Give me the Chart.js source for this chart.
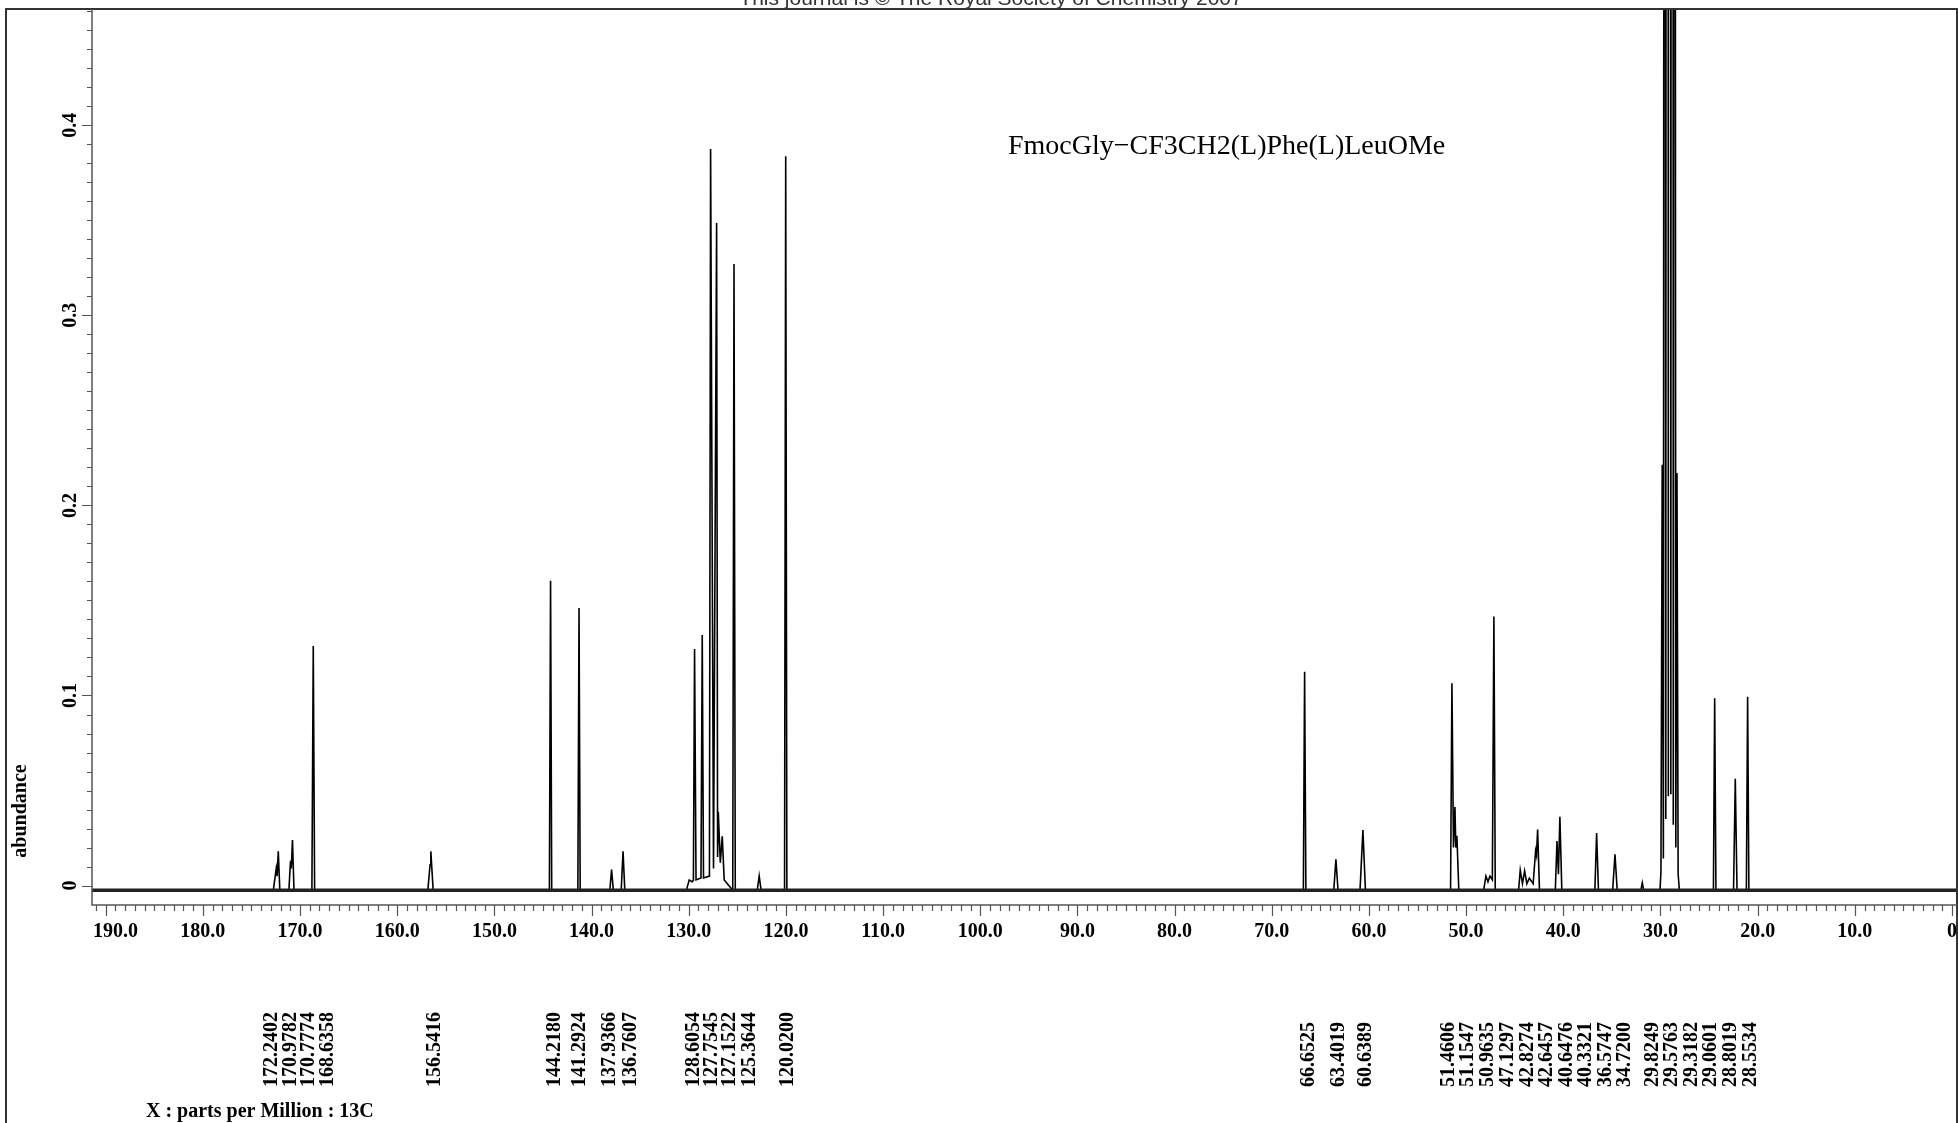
<!DOCTYPE html>
<html lang="en">
<head>
<meta charset="UTF-8">
<title>13C NMR - FmocGly-CF3CH2(L)Phe(L)LeuOMe</title>
<script src="https://cdn.jsdelivr.net/npm/chart.js@4/dist/chart.umd.min.js"></script>
<style>
    html, body { margin: 0; padding: 0; background: #fff; }
    #spectrum { display: block; }
</style>
</head>
<body>
<canvas id="spectrum" width="1958" height="1123"></canvas>
<script>
// spectrum trace (ppm descending, abundance)
const B = -0.0025; // baseline sits a bit under zero
const tracePpm = [
    191.41,
    172.75, 172.45, 172.36, 172.24, 172.08,
    171.15, 170.98, 170.90, 170.78, 170.62,
    168.78, 168.64, 168.50,
    156.85, 156.62, 156.54, 156.30,
    144.34, 144.22, 144.10,
    141.41, 141.29, 141.17,
    138.12, 137.94, 137.76,
    136.95, 136.76, 136.58,
    130.25, 129.95, 129.65, 129.52, 129.40, 129.25,
    128.74, 128.61, 128.48,
    127.87, 127.75, 127.45, 127.13, 127.03, 126.96, 126.75, 126.55, 126.35,
    125.47, 125.34, 125.21,
    122.95, 122.75, 122.55,
    120.14, 120.02, 119.90,
    66.75, 66.62, 66.49,
    63.62, 63.40, 63.18,
    60.92, 60.62, 60.36,
    51.60, 51.46, 51.30, 51.15, 51.06, 50.95, 50.75,
    48.20, 47.96, 47.75, 47.55, 47.30, 47.14, 47.00,
    44.60, 44.43, 44.20, 43.98, 43.75, 43.49, 43.10, 42.85, 42.76, 42.64, 42.45,
    40.82, 40.65, 40.50, 40.35, 40.15,
    36.75, 36.57, 36.38,
    34.92, 34.68, 34.45,
    32.02, 31.87, 31.72,
    30.05, 29.95, 29.82, 29.70, 29.58, 29.45, 29.32, 29.19, 29.06, 28.93, 28.80, 28.68, 28.55, 28.42, 28.30, 28.18, 28.05,
    24.55, 24.42, 24.29,
    22.48, 22.30, 22.12,
    21.16, 21.03, 20.90,
    -0.62
];
const traceAbund = [
    B,
    B, 0.009, 0.005, 0.018, B,
    B, 0.013, 0.009, 0.024, B,
    B, 0.126, B,
    B, 0.011, 0.018, B,
    B, 0.1604, B,
    B, 0.146, B,
    B, 0.0085, B,
    B, 0.018, B,
    B, 0.003, 0.002, 0.003, 0.1245, 0.003,
    0.004, 0.1318, 0.004,
    0.005, 0.3875, 0.009, 0.3486, 0.015, 0.0388, 0.012, 0.0259, 0.003,
    B, 0.327, B,
    B, 0.0051, B,
    B, 0.3836, B,
    B, 0.1125, B,
    B, 0.0139, B,
    B, 0.0292, B,
    B, 0.1064, 0.020, 0.0414, 0.020, 0.0262, B,
    B, 0.005, 0.002, 0.005, 0.003, 0.1415, B,
    B, 0.0081, 0.001, 0.0077, 0.001, 0.0039, 0.001, 0.0183, 0.016, 0.0295, B,
    B, 0.0235, 0.006, 0.0362, B,
    B, 0.0276, B,
    B, 0.0165, B,
    B, 0.0015, B,
    B, 0.007, 0.2214, 0.0142, 1.32, 0.035, 3.3, 0.047, 4.4, 0.048, 3.3, 0.032, 1.32, 0.020, 0.217, 0.006, B,
    B, 0.0985, B,
    B, 0.0562, B,
    B, 0.0993, B,
    B
];
const baselinePpm = [191.41, -0.62];
const baselineAbund = [B, B];

const xMajorTicks = [190, 180, 170, 160, 150, 140, 130, 120, 110, 100, 90, 80, 70, 60, 50, 40, 30, 20, 10, 0];
const xTickLabels = ['190.0', '180.0', '170.0', '160.0', '150.0', '140.0', '130.0', '120.0', '110.0', '100.0',
    '90.0', '80.0', '70.0', '60.0', '50.0', '40.0', '30.0', '20.0', '10.0', '0'];
const yMajorTicks = [0, 0.1, 0.2, 0.3, 0.4];
const yTickLabels = ['0', '0.1', '0.2', '0.3', '0.4'];

const peakLabels = ['172.2402', '170.9782', '170.7774', '168.6358', '156.5416',
    '144.2180', '141.2924', '137.9366', '136.7607',
    '128.6054', '127.7545', '127.1522', '125.3644', '120.0200',
    '66.6525', '63.4019', '60.6389',
    '51.4606', '51.1547', '50.9635', '47.1297', '42.8274', '42.6457', '40.6476', '40.3321', '36.5747', '34.7200',
    '29.8249', '29.5763', '29.3182', '29.0601', '28.8019', '28.5534'];

// layout of the stacked peak labels under the axis (pixels)
const peakLabelX = [272, 291, 309, 328, 435,
    555, 580, 610, 631,
    694, 712, 730, 750, 788,
    1309, 1339, 1366,
    1449, 1468, 1488, 1508, 1528, 1547, 1567, 1586, 1606, 1625,
    1653, 1672, 1692, 1711, 1731, 1751];

const SERIF = '"Liberation Serif", "Times New Roman", serif';
const AXIS_COLOR = '#555';

const axisPainter = {
    id: 'axisPainter',
    afterDraw(chart) {
        const { ctx, chartArea: a, scales: { x, y } } = chart;
        ctx.save();

        // header line, cut off by the page edge
        ctx.fillStyle = '#333';
        ctx.font = '21px "Liberation Sans", Arial, sans-serif';
        ctx.textAlign = 'center';
        ctx.textBaseline = 'alphabetic';
        ctx.fillText('This journal is \u00A9 The Royal Society of Chemistry 2007', 991, 5);

        // frame
        ctx.strokeStyle = '#333';
        ctx.lineWidth = 2;
        ctx.beginPath();
        ctx.moveTo(6, 1123);
        ctx.lineTo(6, 9);
        ctx.lineTo(1957, 9);
        ctx.lineTo(1957, 1123);
        ctx.stroke();

        // axis lines
        ctx.strokeStyle = AXIS_COLOR;
        ctx.lineWidth = 1.5;
        ctx.beginPath();
        ctx.moveTo(a.left, a.top);
        ctx.lineTo(a.left, a.bottom);
        ctx.lineTo(a.right, a.bottom);
        ctx.stroke();

        // major / minor ticks
        ctx.lineWidth = 1.2;
        ctx.beginPath();
        for (let i = -1; i <= 46; i++) {
            const py = Math.round(y.getPixelForValue(i / 100)) + 0.5;
            if (py < a.top || py > a.bottom) continue;
            const len = i % 10 === 0 ? 10 : 5;
            ctx.moveTo(a.left - len, py);
            ctx.lineTo(a.left, py);
        }
        for (let v = 191; v >= 0; v--) {
            const px = Math.round(x.getPixelForValue(v)) + 0.5;
            const len = v % 10 === 0 ? 11 : 6;
            ctx.moveTo(px, a.bottom);
            ctx.lineTo(px, a.bottom + len);
        }
        ctx.stroke();

        ctx.fillStyle = '#000';
        ctx.font = 'bold 20px ' + SERIF;

        // y tick labels, turned
        yMajorTicks.forEach((v, i) => {
            ctx.save();
            ctx.translate(71, y.getPixelForValue(v));
            ctx.rotate(-Math.PI / 2);
            ctx.textAlign = 'center';
            ctx.textBaseline = 'middle';
            ctx.fillText(yTickLabels[i], 0, 0);
            ctx.restore();
        });

        // x tick labels
        ctx.textAlign = 'left';
        ctx.textBaseline = 'alphabetic';
        xMajorTicks.forEach((v, i) => {
            const w = ctx.measureText(xTickLabels[i]).width;
            let left = x.getPixelForValue(v) - w / 2;
            left = Math.max(left, a.left + 1);
            ctx.fillText(xTickLabels[i], left, 937);
        });

        // axis titles
        ctx.fillText('X : parts per Million : 13C', 146, 1117);
        ctx.save();
        ctx.translate(21, 811);
        ctx.rotate(-Math.PI / 2);
        ctx.textAlign = 'center';
        ctx.textBaseline = 'middle';
        ctx.fillText('abundance', 0, 0);
        ctx.restore();

        // peak labels
        peakLabels.forEach((t, i) => {
            ctx.save();
            ctx.translate(peakLabelX[i], 1087);
            ctx.rotate(-Math.PI / 2);
            ctx.textAlign = 'left';
            ctx.textBaseline = 'middle';
            ctx.fillText(t, 0, 0);
            ctx.restore();
        });

        // compound name
        ctx.font = '28px ' + SERIF;
        ctx.textAlign = 'left';
        ctx.textBaseline = 'alphabetic';
        ctx.fillText('FmocGly\u2212CF3CH2(L)Phe(L)LeuOMe', 1008, 154);

        ctx.restore();
    }
};

new Chart(document.getElementById('spectrum'), {
    type: 'line',
    data: {
        datasets: [
            {
                label: 'noise',
                data: baselinePpm.map((p, i) => ({ x: p, y: baselineAbund[i] })),
                borderColor: '#222',
                borderWidth: 3.5,
                pointRadius: 0,
                tension: 0
            },
            {
                label: '13C',
                data: tracePpm.map((p, i) => ({ x: p, y: traceAbund[i] })),
                borderColor: '#000',
                borderWidth: 1.6,
                pointRadius: 0,
                tension: 0
            }
        ]
    },
    options: {
        responsive: false,
        animation: false,
        events: [],
        layout: { padding: { left: 92, top: 9, right: 0, bottom: 218 } },
        plugins: { legend: { display: false }, tooltip: { enabled: false } },
        scales: {
            x: { type: 'linear', reverse: true, min: -0.62, max: 191.41, display: false },
            y: { type: 'linear', min: -0.0102, max: 0.4611, display: false }
        }
    },
    plugins: [axisPainter]
});
</script>
</body>
</html>
